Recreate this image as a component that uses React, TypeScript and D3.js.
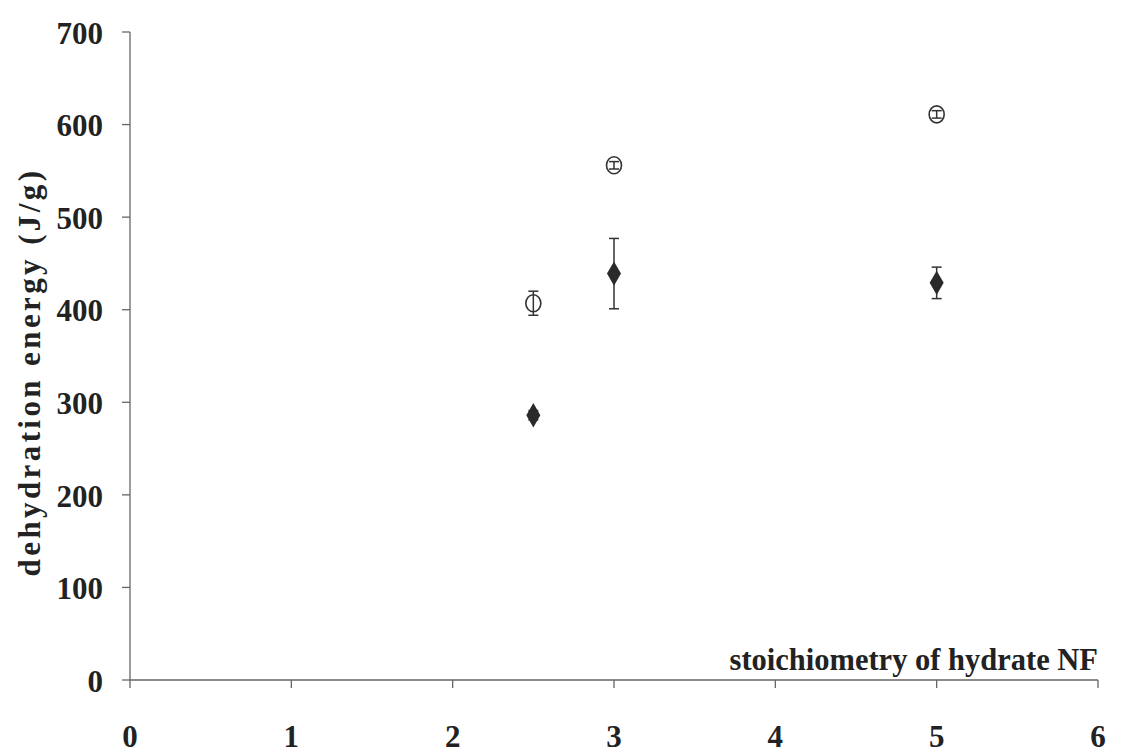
import React from "react";
import * as d3 from "d3";

// stoichiometry of hydrate NF (x) and dehydration energy in J/g (y)
const openX = [2.5, 3, 5];
const openY = [407, 556, 611];
const openErr = [13, 4, 4];

const filledX = [2.5, 3, 5];
const filledY = [286, 439, 429];
const filledErr = [5, 38, 17];

const xTicks = [0, 1, 2, 3, 4, 5, 6];
const yTicks = [0, 100, 200, 300, 400, 500, 600, 700];

const W = 1123;
const H = 755;
const font = "'Liberation Serif', 'Times New Roman', serif";

export default function App() {
  const x = d3.scaleLinear().domain([0, 6]).range([130, 1098]);
  const y = d3.scaleLinear().domain([0, 700]).range([680, 32]);
  const ink = "#333";
  const axis = "#666";
  const diamond = d3.symbol().type(d3.symbolDiamond).size(170)() as string;

  const errBar = (cx: number, v: number, e: number, key: string) => (
    <g key={key} stroke={ink} strokeWidth={1.5}>
      <line x1={x(cx)} x2={x(cx)} y1={y(v + e)} y2={y(v - e)} />
      <line x1={x(cx) - 5} x2={x(cx) + 5} y1={y(v + e)} y2={y(v + e)} />
      <line x1={x(cx) - 5} x2={x(cx) + 5} y1={y(v - e)} y2={y(v - e)} />
    </g>
  );

  return (
    <svg width={W} height={H} style={{ position: "absolute", left: 0, top: 0, background: "#fff" }}>
      {/* axes */}
      <line x1={x(0)} x2={x(6)} y1={y(0)} y2={y(0)} stroke={axis} strokeWidth={1.3} />
      <line x1={x(0)} x2={x(0)} y1={y(0)} y2={y(700)} stroke={axis} strokeWidth={1.3} />
      {yTicks.map((t) => (
        <g key={"yt" + t}>
          <line x1={x(0) - 8} x2={x(0)} y1={y(t)} y2={y(t)} stroke={axis} strokeWidth={1.3} />
          <text
            x={x(0) - 27}
            y={y(t)}
            dy="0.38em"
            textAnchor="end"
            fontFamily={font}
            fontWeight="bold"
            fontSize={31}
            fill="#222"
          >
            {t}
          </text>
        </g>
      ))}
      {xTicks.map((t) => (
        <g key={"xt" + t}>
          <line x1={x(t)} x2={x(t)} y1={y(0)} y2={y(0) + 8} stroke={axis} strokeWidth={1.3} />
          <text
            x={x(t)}
            y={747}
            textAnchor="middle"
            fontFamily={font}
            fontWeight="bold"
            fontSize={31}
            fill="#222"
          >
            {t}
          </text>
        </g>
      ))}
      {/* axis titles */}
      <text
        x={1098}
        y={670}
        textAnchor="end"
        fontFamily={font}
        fontWeight="bold"
        fontSize={30.5}
        fill="#222"
      >
        stoichiometry of hydrate NF
      </text>
      <text
        transform={`translate(40, 372) rotate(-90)`}
        textAnchor="middle"
        fontFamily={font}
        fontWeight="bold"
        fontSize={31}
        letterSpacing={3.4}
        fill="#222"
      >
        dehydration energy (J/g)
      </text>

      {/* filled diamonds */}
      {filledX.map((cx, i) => errBar(cx, filledY[i], filledErr[i], "fe" + i))}
      {filledX.map((cx, i) => (
        <path key={"fd" + i} d={diamond} transform={`translate(${x(cx)},${y(filledY[i])})`} fill="#2a2a2a" />
      ))}

      {/* open circles */}
      {openX.map((cx, i) => errBar(cx, openY[i], openErr[i], "oe" + i))}
      {openX.map((cx, i) => (
        <ellipse
          key={"oc" + i}
          cx={x(cx)}
          cy={y(openY[i])}
          rx={7.5}
          ry={8.5}
          fill="none"
          stroke={ink}
          strokeWidth={1.6}
        />
      ))}
    </svg>
  );
}
